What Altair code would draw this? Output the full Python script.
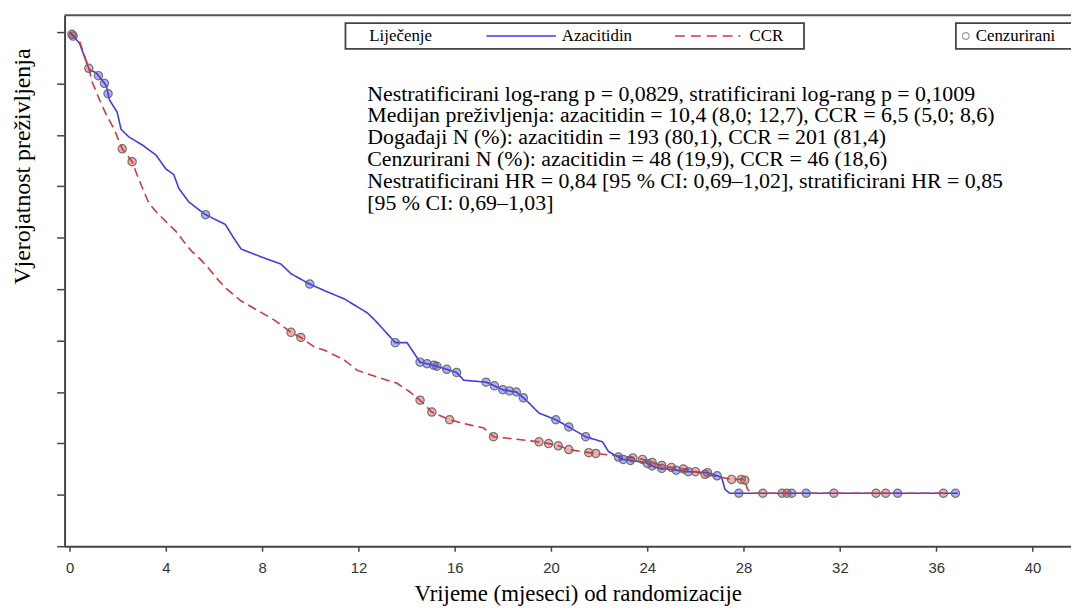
import altair as alt
import pandas as pd
import numpy as np

# ---- data ----
aza_time = [0, 0.41, 0.82, 1.11, 1.32, 1.53, 1.65, 1.98, 2.14, 2.47,
            3.01, 3.59, 4.0, 4.33, 4.54, 4.95, 5.36, 5.65, 6.47, 6.8,
            7.13, 8.12, 8.78, 9.2, 9.98, 10.6, 11.42, 12.37, 12.7, 13.07,
            13.53, 14.02, 14.56, 15.13, 16.08, 16.37, 17.32, 18.02, 18.56, 18.97,
            19.5, 20.2, 20.74, 21.44, 22.14, 22.39, 22.97, 23.92, 24.33, 25.69,
            26.52, 27.09, 27.22, 27.42, 36.9]
aza_surv = [1.0, 0.979, 0.927, 0.921, 0.908, 0.896, 0.869, 0.844, 0.811, 0.796,
            0.781, 0.761, 0.734, 0.723, 0.696, 0.670, 0.655, 0.645, 0.626, 0.601,
            0.578, 0.560, 0.549, 0.530, 0.510, 0.497, 0.481, 0.454, 0.439, 0.420,
            0.396, 0.396, 0.358, 0.352, 0.338, 0.323, 0.319, 0.304, 0.300, 0.284,
            0.259, 0.246, 0.232, 0.213, 0.203, 0.184, 0.169, 0.163, 0.153, 0.145,
            0.143, 0.134, 0.111, 0.103, 0.103]

ccr_time = [0, 0.41, 0.82, 0.95, 1.24, 1.53, 1.86, 2.02, 2.19, 2.6,
            2.8, 3.09, 3.3, 3.71, 4.04, 4.41, 4.74, 5.07, 5.44, 5.77,
            6.1, 6.47, 7.13, 7.84, 8.54, 9.2, 9.61, 10.19, 10.6, 11.42,
            11.96, 12.78, 13.61, 14.14, 14.56, 15.05, 15.79, 16.62, 17.2, 17.61,
            18.02, 19.5, 20.2, 20.74, 21.57, 23.09, 23.79, 24.74, 25.69, 26.39,
            27.5, 28.04, 28.16, 28.33, 36.3]
ccr_surv = [1.0, 0.983, 0.927, 0.902, 0.869, 0.839, 0.811, 0.792, 0.773, 0.748,
            0.723, 0.690, 0.667, 0.645, 0.630, 0.613, 0.593, 0.574, 0.558, 0.541,
            0.522, 0.503, 0.477, 0.458, 0.439, 0.416, 0.406, 0.387, 0.381, 0.362,
            0.342, 0.329, 0.317, 0.300, 0.284, 0.261, 0.246, 0.236, 0.230, 0.213,
            0.211, 0.203, 0.197, 0.188, 0.182, 0.174, 0.169, 0.155, 0.149, 0.140,
            0.130, 0.130, 0.111, 0.103, 0.103]

aza_cens = [0.15, 1.2, 1.45, 1.6, 5.65, 9.98, 13.53, 14.56, 14.85, 15.13, 15.26,
            15.67, 16.08, 17.3, 17.65, 18.0, 18.27, 18.56, 18.85, 20.2, 20.74,
            21.44, 22.8, 23.0, 23.3, 24.0, 24.2, 24.6, 25.2, 25.7, 26.5, 26.9,
            27.8, 30.0, 30.6, 34.4, 36.8]
ccr_cens = [0.1, 0.8, 2.19, 2.6, 9.2, 9.61, 14.56, 15.05, 15.79, 17.61, 19.5,
            19.9, 20.3, 20.74, 21.57, 21.86, 23.4, 23.8, 24.2, 24.6, 25.0, 25.5,
            26.0, 26.4, 27.5, 27.9, 28.05, 28.8, 29.6, 29.8, 31.75, 33.5, 33.9, 36.3]

groups = ["Azacitidin", "CCR"]
colors = ["#3c3cec", "#cc3a3a"]
x_ticks = [0, 4, 8, 12, 16, 20, 24, 28, 32, 36, 40]
y_ticks = [0, 0.1, 0.2, 0.3, 0.4, 0.5, 0.6, 0.7, 0.8, 0.9, 1.0]

x_title = "Vrijeme (mjeseci) od randomizacije"
y_title = "Vjerojatnost preživljenja"
legend_title = "Liječenje"
censor_label = "Cenzurirani"
stats_lines = [
    "Nestratificirani log-rang p = 0,0829, stratificirani log-rang p = 0,1009",
    "Medijan preživljenja: azacitidin = 10,4 (8,0; 12,7), CCR = 6,5 (5,0; 8,6)",
    "Događaji N (%): azacitidin = 193 (80,1), CCR = 201 (81,4)",
    "Cenzurirani N (%): azacitidin = 48 (19,9), CCR = 46 (18,6)",
    "Nestratificirani HR = 0,84 [95 % CI: 0,69–1,02], stratificirani HR = 0,85",
    "[95 % CI: 0,69–1,03]",
]

# ---- tables ----
curves = pd.DataFrame({
    "t": aza_time + ccr_time,
    "s": aza_surv + ccr_surv,
    "grp": [groups[0]] * len(aza_time) + [groups[1]] * len(ccr_time),
})

# censor marks sit on their curve
cens = pd.DataFrame({
    "t": aza_cens + ccr_cens,
    "s": list(np.interp(aza_cens, aza_time, aza_surv)) + list(np.interp(ccr_cens, ccr_time, ccr_surv)),
    "grp": [groups[0]] * len(aza_cens) + [groups[1]] * len(ccr_cens),
})

one = pd.DataFrame({"k": [0]})  # single row for decorations

W, H = 1014, 535
SERIF = "Liberation Serif"
SANS = "Liberation Sans"

xenc = alt.X("t:Q", scale=alt.Scale(domain=[-0.206, 41.6], nice=False, zero=False),
             axis=alt.Axis(values=x_ticks, grid=False, domainColor="#444", domainWidth=2,
                           tickColor="#444", tickSize=5, tickWidth=1.5,
                           labelFont=SANS, labelFontSize=15, labelColor="#333",
                           labelPadding=9, title=x_title, titleFont=SERIF,
                           titleFontSize=23, titleFontWeight="normal", titleColor="#000",
                           titleX=517, titleY=55, titleBaseline="alphabetic",
                           titleAlign="center", titleAnchor="start"))
yenc = alt.Y("s:Q", scale=alt.Scale(domain=[0, 1.033], nice=False),
             axis=alt.Axis(values=y_ticks, labels=False, grid=False, domainColor="#444",
                           domainWidth=2, tickColor="#444", tickSize=8, tickWidth=1.5,
                           title=y_title, titleFont=SERIF, titleFontSize=24,
                           titleFontWeight="normal", titleColor="#000", titleAngle=270,
                           titleX=-35, titleY=152, titleBaseline="alphabetic",
                           titleAlign="center", titleAnchor="start"))

lines = alt.Chart(curves).mark_line(interpolate="linear", strokeWidth=1.6).encode(
    x=xenc, y=yenc,
    color=alt.Color("grp:N", scale=alt.Scale(domain=groups, range=colors), legend=None),
    strokeDash=alt.StrokeDash("grp:N", scale=alt.Scale(domain=groups, range=[[1, 0], [9, 5]]),
                              legend=None),
)

points = alt.Chart(cens).mark_point(shape="circle", filled=True, size=70, stroke="#666",
                                    strokeWidth=1.2, fillOpacity=0.4, strokeOpacity=0.9).encode(
    x="t:Q", y="s:Q",
    fill=alt.Fill("grp:N", scale=alt.Scale(domain=groups, range=colors), legend=None),
)

# top frame line
top = alt.Chart(one).mark_rule(color="#555", strokeWidth=2).encode(
    x=alt.value(0), x2=alt.value(W), y=alt.value(0))

# legend boxes
box1 = alt.Chart(one).mark_rect(fill="white", stroke="#444", strokeWidth=1.8).encode(
    x=alt.value(283), x2=alt.value(745), y=alt.value(8), y2=alt.value(34))
box2 = alt.Chart(one).mark_rect(fill="white", stroke="#444", strokeWidth=1.8).encode(
    x=alt.value(898), x2=alt.value(1030), y=alt.value(8), y2=alt.value(34))

leg_txt_style = dict(font=SERIF, fontSize=17, color="#000", align="left", baseline="middle")
t_lij = alt.Chart(one).mark_text(text=legend_title, **leg_txt_style).encode(
    x=alt.value(307), y=alt.value(21))
t_aza = alt.Chart(one).mark_text(text=groups[0], **leg_txt_style).encode(
    x=alt.value(501), y=alt.value(21))
t_ccr = alt.Chart(one).mark_text(text=groups[1], **leg_txt_style).encode(
    x=alt.value(690), y=alt.value(21))
t_cen = alt.Chart(one).mark_text(text=censor_label, **leg_txt_style).encode(
    x=alt.value(918), y=alt.value(21))
l_aza = alt.Chart(one).mark_rule(color=colors[0], strokeWidth=1.6).encode(
    x=alt.value(425), x2=alt.value(495), y=alt.value(21))
l_ccr = alt.Chart(one).mark_rule(color=colors[1], strokeWidth=1.6, strokeDash=[10, 6]).encode(
    x=alt.value(615), x2=alt.value(681), y=alt.value(21))
p_cen = alt.Chart(one).mark_point(shape="circle", filled=False, size=45, stroke="#777",
                                  strokeWidth=1.2).encode(x=alt.value(908), y=alt.value(21))

stats = alt.Chart(one).mark_text(text=stats_lines, font=SERIF, fontSize=22, lineHeight=22,
                                 color="#000", align="left", baseline="alphabetic").encode(
    x=alt.value(305), y=alt.value(86))

chart = alt.layer(lines, points, top, box1, box2, t_lij, t_aza, t_ccr, t_cen, l_aza, l_ccr,
                  p_cen, stats).properties(
    width=W, height=H,
    autosize=alt.AutoSizeParams(type="none"),
    padding={"left": 57, "top": 5, "right": 0, "bottom": 60},
    background="white",
).configure_view(stroke=None)

chart.save("out.html", embed_options={"renderer": "svg", "actions": False})
